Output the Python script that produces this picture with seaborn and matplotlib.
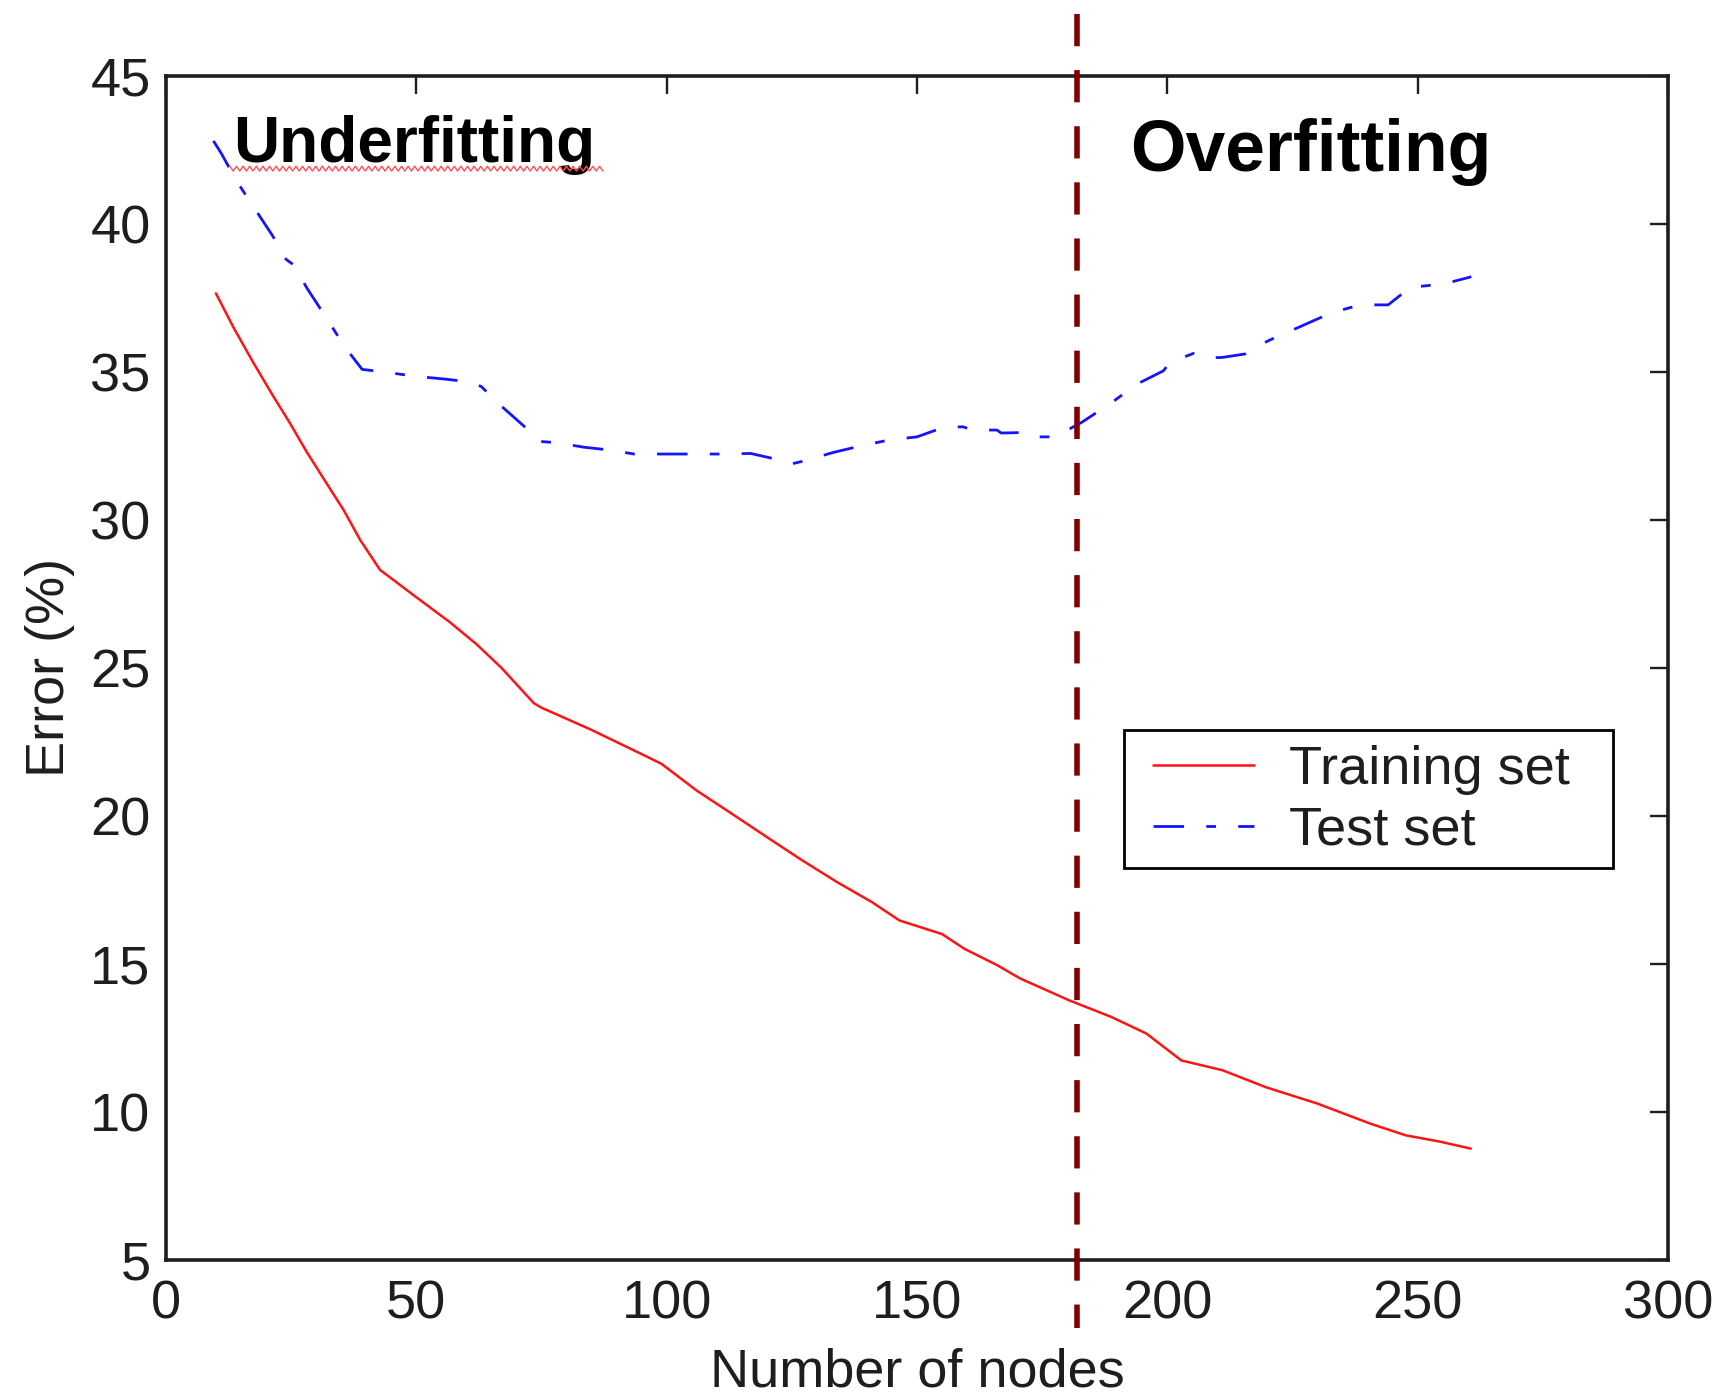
import numpy as np
import pandas as pd
import matplotlib
matplotlib.use("Agg")
import matplotlib.pyplot as plt
from matplotlib.lines import Line2D
from matplotlib.patches import Rectangle
import seaborn as sns

# ---- data ----
train_nodes = [10, 13.5, 17.5, 21.5, 24.8, 28.1, 32.1, 35.5, 38.8, 42.8, 44, 49.4, 56.7, 62,
               67, 73.5, 75, 85, 96, 99, 106, 113, 120, 127, 134, 141, 146.5, 155, 159.5,
               166, 170.6, 180.4, 188.8, 195.8, 202.8, 211, 219.6, 230, 240.6, 247.6,
               254.6, 260.6]
train_error = [37.65, 36.5, 35.3, 34.16, 33.26, 32.3, 31.23, 30.33, 29.32, 28.3, 28.15,
               27.46, 26.54, 25.8, 25.0, 23.8, 23.65, 22.9, 22.0, 21.75, 20.85, 20.07, 19.28,
               18.5, 17.76, 17.08, 16.46, 16.0, 15.5, 14.95, 14.5, 13.76, 13.2, 12.64, 11.73,
               11.4, 10.83, 10.27, 9.59, 9.2, 8.98, 8.75]

test_nodes = [9.5, 11, 14.3, 17.6, 21.3, 24, 25.6, 28.2, 31.9, 35.7, 39.2, 44.2, 49.6, 55.9,
              60.9, 63, 66.6, 72.6, 74.4, 78.2, 83.5, 88.9, 93.5, 100, 111.4, 116.8, 122.5,
              124.8, 127.8, 133.2, 138.9, 144.3, 150, 155.3, 159.2, 161.1, 166, 166.8, 172.2,
              173.7, 177.5, 182.9, 188.9, 193.9, 199.2, 200.5, 205.2, 207.2, 210.8, 215.5,
              216.8, 221.8, 225.8, 231.8, 233.8, 238.5, 244.1, 248.5, 254.8, 257.1, 260.7]
test_error = [42.8, 42.4, 41.4, 40.55, 39.6, 38.8, 38.6, 37.82, 36.86, 35.85, 35.08, 34.98,
              34.85, 34.75, 34.65, 34.5, 33.9, 33.0, 32.65, 32.6, 32.45, 32.35, 32.22, 32.22,
              32.22, 32.24, 32.02, 31.88, 32.0, 32.27, 32.5, 32.69, 32.8, 33.12, 33.14, 33.03,
              33.03, 32.93, 32.95, 32.8, 32.8, 33.29, 33.96, 34.58, 35.03, 35.31, 35.62,
              35.48, 35.48, 35.6, 35.77, 36.18, 36.47, 36.92, 37.04, 37.26, 37.26, 37.85,
              37.96, 38.05, 38.21]

threshold_nodes = 182

x_ticks = [0, 50, 100, 150, 200, 250, 300]
y_ticks = [5, 10, 15, 20, 25, 30, 35, 40, 45]

train_df = pd.DataFrame({"nodes": train_nodes, "error": train_error})
test_df = pd.DataFrame({"nodes": test_nodes, "error": test_error})

# ---- style ----
sns.set_style("white")
plt.rcParams["font.family"] = ["Liberation Sans", "DejaVu Sans"]

FS = 39
INK = "#1e1e1e"

fig, ax = plt.subplots(figsize=(17.22, 13.96), dpi=100)
fig.subplots_adjust(left=0.0963, right=0.9687, bottom=0.0977, top=0.9457)

sns.lineplot(data=train_df, x="nodes", y="error", ax=ax, color="#FF1414",
             lw=1.8, label="Training set")
sns.lineplot(data=test_df, x="nodes", y="error", ax=ax, color="#1414FF",
             lw=2.0, linestyle=(0, (11, 8, 3.5, 8)), label="Test set")

ax.axvline(threshold_nodes, 1.052, -0.058, color="#800000", lw=4.0,
           linestyle=(0, (5.8, 4.3)), clip_on=False, zorder=5)

ax.set_xlim(0, 300)
ax.set_ylim(5, 45)
ax.set_xticks(x_ticks)
ax.set_yticks(y_ticks)

for s in ax.spines.values():
    s.set_visible(True)
    s.set_linewidth(2.6)
    s.set_color(INK)

ax.tick_params(axis="both", which="both", direction="in", length=13, width=1.7,
               color=INK, labelsize=FS, labelcolor=INK, top=True, right=True)
ax.tick_params(axis="x", pad=14)
ax.tick_params(axis="y", pad=11)

ax.set_xlabel("Number of nodes", fontsize=FS, color=INK, labelpad=13)
ax.set_ylabel("Error (%)", fontsize=FS, color=INK, labelpad=11)

under = ax.text(13.4, 42.1, "Underfitting", fontsize=46, fontweight="bold",
                color="black", va="baseline", ha="left")
ax.text(192.6, 41.8, "Overfitting", fontsize=51.5, fontweight="bold",
        color="black", va="baseline", ha="left")

leg = ax.legend(loc="upper left", bbox_to_anchor=(0.657, 0.435), borderaxespad=0,
                fontsize=FS, frameon=False, handlelength=1.87,
                handletextpad=0.65, labelspacing=0.2, borderpad=0)
for t in leg.get_texts():
    t.set_color(INK)

fig.canvas.draw()

# legend frame with the reference's uneven padding
lb = leg.get_window_extent()
pad_l, pad_r, pad_t, pad_b = 29, 43, 15, 13
fig.add_artist(Rectangle((lb.x0 - pad_l, lb.y0 - pad_b), lb.width + pad_l + pad_r,
                         lb.height + pad_t + pad_b, transform=None, fill=False,
                         edgecolor="black", lw=2.0, zorder=6))

# red squiggly underline beneath "Underfitting"
bb = under.get_window_extent()
zx = np.arange(bb.x0 - 3, bb.x1 + 10, 3.3)
zy = bb.y0 + 6 + np.where(np.arange(len(zx)) % 2 == 0, 2.4, -2.4)
fig.add_artist(Line2D(zx, zy, transform=None, color="#FF5050", lw=1.0))

fig.savefig("out.png", dpi=100, facecolor="white")
